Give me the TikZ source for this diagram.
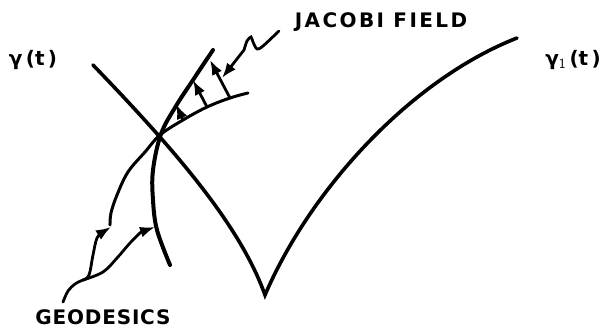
\documentclass[tikz,border=0pt]{standalone}
\usepackage{fontspec}
\setmainfont{DejaVu Sans}
\usetikzlibrary{arrows.meta}

\begin{document}
\begin{tikzpicture}[
    x=1pt, y=-1pt,
    every node/.style={font=\bfseries\fontsize{20}{20}\selectfont, inner sep=0pt},
    curve/.style={line width=3.6pt, line cap=round},
    geobold/.style={line width=4pt, line cap=round},
    geothin/.style={line width=3pt, line cap=round},
    field/.style={line width=2.8pt, -{Latex[length=15pt, width=11pt]}},
    pointer/.style={line width=2.8pt, line cap=round, -{Latex[length=15pt, width=11pt]}}
]
\useasboundingbox (0,0) rectangle (607,329);

% labels
\node (gam) at (33,60) {γ\,(t\,)};
\node (gamOne) at (573,60) {γ$_{\mathsf{1}}$\,(t\,)};
\node (jacobi) at (381,22) {\addfontfeature{LetterSpace=12}JACOBI FIELD};
\node (geod) at (103,317) {\addfontfeature{LetterSpace=4}GEODESICS};

% the broken curve gamma / gamma_1
\coordinate (gtop) at (93,65);
\coordinate (vbot) at (265,295);
\coordinate (gonetop) at (517,38);
\draw[curve] (gtop) .. controls (175,150) and (240,225) .. (vbot)
    .. controls (310,190) and (410,80) .. (gonetop);

% geodesics
\draw[geobold] plot[smooth, tension=0.6] coordinates
    {(213,50) (193,80) (176,106) (161,134) (153,170) (153,200) (157,230) (170,265)};
\draw[geothin] plot[smooth, tension=0.6] coordinates
    {(248,93) (230,98) (207,107) (183,120) (160,135) (145,152) (128,172) (117,195) (111,213) (110,225)};

% jacobi field
\coordinate (j1a) at (183,120);
\coordinate (j1b) at (176,104);
\coordinate (j2a) at (207,107);
\coordinate (j2b) at (193,80);
\coordinate (j3a) at (230,98);
\coordinate (j3b) at (210,60);
\draw[field] (j1a) -- (j1b);
\draw[field] (j2a) -- (j2b);
\draw[field] (j3a) -- (j3b);

% pointers
\coordinate (jtip) at (222,78);
\draw[pointer] plot[smooth, tension=0.5] coordinates
    {(279,31) (263,46) (257,49) (253,42) (251,37) (247,41) (244,50)} -- (jtip);

\coordinate (gfork) at (83,280);
\coordinate (gtipA) at (111,227);
\coordinate (gtipB) at (155,227);
\draw[line width=2.8pt, line cap=round] plot[smooth, tension=0.6] coordinates {(63,302) (68,291) (75,284) (gfork)};
\draw[pointer] plot[smooth, tension=0.6] coordinates {(gfork) (89,275) (93,255) (97,238) (103,232)} -- (gtipA);
\draw[pointer] plot[smooth, tension=0.6] coordinates {(gfork) (103,272) (117,258) (130,243) (141,232)} -- (gtipB);
\end{tikzpicture}
\end{document}
